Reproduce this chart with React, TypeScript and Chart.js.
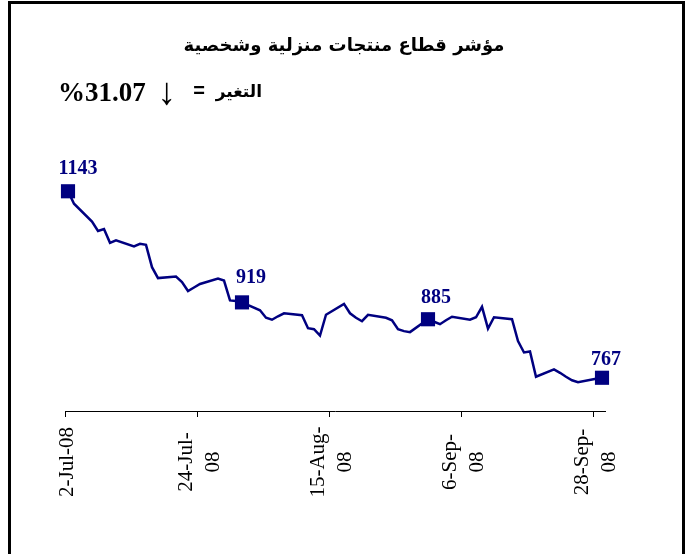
import React, { useEffect, useRef } from "react";
import { Chart, registerables } from "chart.js";
Chart.register(...registerables);

// Trading days, counted in days from 2-Jul-08
const tradingDays = [
  0, 1, 4, 5, 6, 7, 8, 11, 12, 13, 14, 15, 18, 19, 20, 21, 22, 25, 26, 27, 28, 29,
  32, 33, 34, 35, 36, 39, 40, 41, 42, 43, 46, 47, 48, 49, 50, 53, 54, 55, 56, 57,
  60, 61, 62, 63, 64, 67, 68, 69, 70, 71, 74, 75, 76, 77, 78, 81, 82, 83, 84, 85, 88, 89,
];
const indexValues = [
  1143, 1118, 1082, 1063, 1067, 1039, 1044, 1032, 1037, 1035, 990, 968, 971, 960, 942, 949, 956, 967, 963, 923, 922, 919,
  903, 888, 884, 891, 897, 893, 867, 865, 852, 894, 916, 897, 888, 881, 894, 888, 883, 865, 861, 859,
  885, 880, 875, 883, 890, 884, 889, 910, 866, 889, 885, 841, 818, 820, 769, 784, 777, 769, 762, 758, 765, 767,
];
const labeledDays = [0, 29, 60, 89];
const tickDays = [0, 22, 44, 66, 88];
const tickLabels = [["2-Jul-08"], ["24-Jul-", "08"], ["15-Aug-", "08"], ["6-Sep-", "08"], ["28-Sep-", "08"]];
const titleText = "مؤشر قطاع منتجات منزلية وشخصية";
const changeLabel = "التغير";
const changeValue = "%31.07";
const changeArrow = "↓";
const yMin = 700;
const yMax = 1200;
const xMin = 0;
const xMax = 90;

const NAVY = "#000080";

export default function App() {
  const ref = useRef<HTMLCanvasElement | null>(null);

  useEffect(() => {
    const canvas = ref.current;
    if (!canvas) return;

    const points = tradingDays.map((d, i) => ({ x: d + 0.5, y: indexValues[i] }));
    const radii = tradingDays.map((d) => (labeledDays.includes(d) ? 10 : 0));

    const labelOffsets = [
      [10, -17],
      [9, -19],
      [8, -16],
      [4, -13],
    ];

    const decorPlugin = {
      id: "decor",
      afterDraw(chart: any) {
        const ctx: CanvasRenderingContext2D = chart.ctx;
        // data labels
        const meta = chart.getDatasetMeta(0);
        ctx.save();
        ctx.fillStyle = NAVY;
        ctx.font = "bold 20px 'Liberation Serif'";
        ctx.textAlign = "center";
        ctx.textBaseline = "alphabetic";
        let k = 0;
        tradingDays.forEach((d, i) => {
          if (!labeledDays.includes(d)) return;
          const el = meta.data[i];
          const off = labelOffsets[k++] || [0, -16];
          ctx.fillText(String(indexValues[i]), el.x + off[0], el.y + off[1]);
        });
        ctx.restore();

        // x tick labels, rotated and centred
        const xs = chart.scales.x;
        ctx.save();
        ctx.fillStyle = "#000";
        ctx.font = "21px 'Liberation Serif'";
        ctx.textAlign = "center";
        ctx.textBaseline = "middle";
        tickDays.forEach((v, i) => {
          const px = xs.getPixelForValue(v) + 2.5;
          const lines = tickLabels[i];
          ctx.save();
          ctx.translate(px, 462);
          ctx.rotate(-Math.PI / 2);
          lines.forEach((ln, j) => {
            ctx.fillText(ln, 0, (j - (lines.length - 1) / 2) * 27);
          });
          ctx.restore();
        });
        ctx.restore();

        // title
        ctx.save();
        ctx.fillStyle = "#000";
        ctx.direction = "rtl";
        ctx.textAlign = "center";
        ctx.textBaseline = "alphabetic";
        ctx.font = "bold 18px 'DejaVu Sans'";
        ctx.fillText(titleText, 344, 51);
        ctx.restore();

        // change line
        ctx.save();
        ctx.fillStyle = "#000";
        ctx.textBaseline = "alphabetic";
        ctx.direction = "ltr";
        ctx.textAlign = "left";
        ctx.font = "bold 27px 'Liberation Serif'";
        ctx.fillText(changeValue, 58, 101);
        ctx.font = "38px 'Liberation Serif'";
        ctx.fillText(changeArrow, 157, 104);
        ctx.font = "bold 20px 'Liberation Sans'";
        ctx.textAlign = "center";
        ctx.fillText("=", 199, 97);
        ctx.direction = "rtl";
        ctx.textAlign = "right";
        ctx.font = "bold 17px 'DejaVu Sans'";
        ctx.fillText(changeLabel, 262, 97);
        ctx.restore();
      },
    };

    const chart = new Chart(canvas, {
      type: "line",
      data: {
        datasets: [
          {
            data: points,
            borderColor: NAVY,
            borderWidth: 2.5,
            pointStyle: "rect",
            pointRadius: radii,
            pointHoverRadius: radii,
            pointBackgroundColor: NAVY,
            pointBorderColor: NAVY,
            pointBorderWidth: 0,
            tension: 0,
            fill: false,
            clip: false,
          } as any,
        ],
      },
      options: {
        responsive: false,
        animation: false,
        devicePixelRatio: 1,
        events: [],
        layout: { padding: { left: 65, right: 87, top: 163, bottom: 137 } },
        plugins: {
          legend: { display: false },
          tooltip: { enabled: false },
          title: { display: false },
        },
        scales: {
          x: {
            type: "linear",
            min: xMin,
            max: xMax,
            afterBuildTicks: (s: any) => {
              s.ticks = tickDays.map((v) => ({ value: v }));
            },
            ticks: { display: false },
            grid: {
              display: true,
              drawOnChartArea: false,
              drawTicks: true,
              tickLength: 6,
              color: "#000",
              lineWidth: 1,
            },
            border: { display: true, color: "#000", width: 1 },
          },
          y: { display: false, min: yMin, max: yMax },
        },
      },
      plugins: [decorPlugin],
    });

    return () => chart.destroy();
  }, []);

  return (
    <div style={{ position: "fixed", left: 0, top: 0, width: 692, height: 554, overflow: "hidden", background: "#fff" }}>
      <div
        style={{
          position: "absolute",
          left: 8,
          top: 1,
          width: 677,
          height: 600,
          border: "3px solid #000",
          boxSizing: "border-box",
        }}
      />
      <canvas ref={ref} width={692} height={554} style={{ position: "absolute", left: 0, top: 0 }} />
    </div>
  );
}
